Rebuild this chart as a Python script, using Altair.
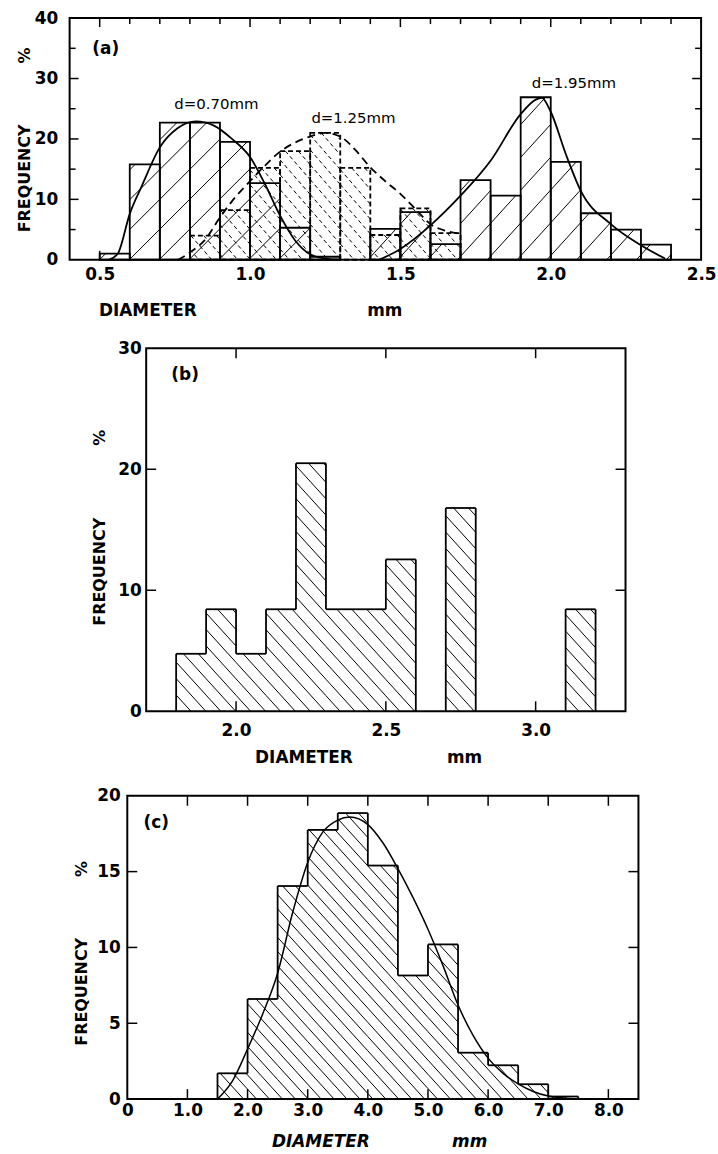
import math
import pandas as pd
import altair as alt

FONT = "DejaVu Sans"
NB = "\u00a0"

# ---------------- Panel (a) data ----------------
A_EDGES_070 = [0.5, 0.6, 0.7, 0.8, 0.9, 1.0, 1.1, 1.2, 1.3]
A_FREQ_070 = [1.0, 15.8, 22.7, 22.7, 19.5, 12.7, 5.3, 0.5]
A_EDGES_125 = [0.8, 0.9, 1.0, 1.1, 1.2, 1.3, 1.4, 1.5, 1.6, 1.7]
A_FREQ_125 = [4.0, 8.2, 15.2, 18.0, 21.0, 15.2, 4.1, 8.5, 4.4]
A_EDGES_195 = [1.4, 1.5, 1.6, 1.7, 1.8, 1.9, 2.0, 2.1, 2.2, 2.3, 2.4]
A_FREQ_195 = [5.1, 7.9, 2.6, 13.2, 10.6, 26.9, 16.2, 7.7, 5.0, 2.5]

A_CURVE_070_X = [0.53, 0.56, 0.60, 0.64, 0.70, 0.76, 0.82, 0.88, 0.94, 1.00, 1.05, 1.10, 1.15, 1.20, 1.25, 1.30]
A_CURVE_070_Y = [0.0, 1.0, 7.6, 12.2, 18.6, 21.8, 22.9, 22.2, 20.0, 17.0, 12.5, 7.3, 3.2, 0.9, 0.2, 0.0]
A_CURVE_125_X = [0.76, 0.80, 0.85, 0.90, 0.95, 1.00, 1.05, 1.10, 1.15, 1.20, 1.25, 1.30, 1.35, 1.40, 1.45, 1.50, 1.55, 1.60, 1.65, 1.70]
A_CURVE_125_Y = [0.0, 1.2, 3.3, 7.0, 10.3, 13.0, 15.6, 17.9, 19.4, 20.4, 21.0, 20.4, 18.2, 15.3, 13.0, 10.9, 8.4, 5.9, 4.8, 4.3]
A_CURVE_195_X = [1.43, 1.50, 1.60, 1.70, 1.80, 1.90, 1.95, 1.97, 2.00, 2.05, 2.10, 2.20, 2.30, 2.38]
A_CURVE_195_Y = [0.0, 1.8, 5.7, 10.6, 16.4, 24.1, 26.5, 26.8, 24.5, 17.5, 11.4, 5.9, 2.4, 0.2]

A_XLABELS = [0.5, 1.0, 1.5, 2.0, 2.5]
A_YLABELS = [0, 10, 20, 30, 40]
A_XTICKS = [0.5, 0.6, 0.7, 0.8, 0.9, 1.0, 1.1, 1.2, 1.3, 1.4, 1.5, 1.6, 1.7, 1.8, 1.9, 2.0, 2.1, 2.2, 2.3, 2.4]
A_XTICKS_MAJOR = [0.5, 1.0, 1.5, 2.0]
A_YTICKS = [5, 10, 15, 20, 25, 30, 35]
A_YTICKS_MAJOR = [10, 20, 30]
A_PANEL_LABEL = ["(a)"]
A_PANEL_LABEL_X = [0.52]
A_PANEL_LABEL_Y = [34.9]
A_NOTE = ["d=0.70mm", "d=1.25mm", "d=1.95mm"]
A_NOTE_X = [0.888, 1.344, 2.077]
A_NOTE_Y = [25.7, 23.5, 29.3]

# ---------------- Panel (b) data ----------------
B_EDGES = [1.8, 1.9, 2.0, 2.1, 2.2, 2.3, 2.4, 2.5, 2.6, 2.7, 2.8, 2.9, 3.0, 3.1, 3.2]
B_FREQ = [4.75, 8.43, 4.75, 8.43, 20.5, 8.43, 8.43, 12.55, 0.0, 16.8, 0.0, 0.0, 0.0, 8.43]
B_XLABELS = [2.0, 2.5, 3.0]
B_YLABELS = [0, 10, 20, 30]
B_XTICKS = [2.0, 2.5, 3.0]
B_YTICKS = [10, 20]
B_PANEL_LABEL = ["(b)"]
B_PANEL_LABEL_X = [1.83]
B_PANEL_LABEL_Y = [27.8]

# ---------------- Panel (c) data ----------------
C_EDGES = [1.5, 2.0, 2.5, 3.0, 3.5, 4.0, 4.5, 5.0, 5.5, 6.0, 6.5, 7.0, 7.5]
C_FREQ = [1.7, 6.6, 14.05, 17.75, 18.86, 15.4, 8.15, 10.2, 3.06, 2.23, 0.98, 0.17]
C_CURVE_X = [1.5, 1.75, 2.0, 2.25, 2.5, 2.75, 3.0, 3.25, 3.5, 3.7, 4.0, 4.25, 4.5, 4.75, 5.0, 5.25, 5.5, 5.75, 6.0, 6.25, 6.5, 6.75, 7.0, 7.5]
C_CURVE_Y = [0.0, 1.2, 3.3, 5.6, 8.3, 12.3, 15.6, 17.6, 18.4, 18.6, 18.1, 16.9, 15.2, 13.3, 11.2, 8.8, 6.2, 4.2, 2.7, 1.7, 1.0, 0.5, 0.2, 0.0]
C_XLABELS = [0, 1, 2, 3, 4, 5, 6, 7, 8]
C_YLABELS = [0, 5, 10, 15, 20]
C_XTICKS = [1, 2, 3, 4, 5, 6, 7, 8]
C_YTICKS = [5, 10, 15]
C_PANEL_LABEL = ["(c)"]
C_PANEL_LABEL_X = [0.48]
C_PANEL_LABEL_Y = [18.2]


# ---------------- helpers ----------------
def hatch_segments(edges, freqs, xmin, ymin, sx, sy, step, slope, direction):
    segs = []
    X = [(e - xmin) * sx for e in edges]
    hmax = max(freqs) * sy
    if direction == "/":
        c0, c1 = X[0] - hmax / slope - step, X[-1] + step
    else:
        c0, c1 = X[0] - step, X[-1] + hmax / slope + step
    for k in range(int(math.floor(c0 / step)), int(math.ceil(c1 / step)) + 1):
        c = k * step
        for i, v in enumerate(freqs):
            h = (v - ymin) * sy
            if h <= 0:
                continue
            a, b = X[i], X[i + 1]
            if direction == "/":
                lo, hi = c, c + h / slope
                xa, xb = max(a, lo), min(b, hi)
                if xb - xa < 0.3:
                    continue
                ya, yb = slope * (xa - c), slope * (xb - c)
            else:
                lo, hi = c - h / slope, c
                xa, xb = max(a, lo), min(b, hi)
                if xb - xa < 0.3:
                    continue
                ya, yb = slope * (c - xa), slope * (c - xb)
            segs.append({"x": xmin + xa / sx, "y": ymin + ya / sy,
                         "x2": xmin + xb / sx, "y2": ymin + yb / sy})
    return pd.DataFrame(segs)


def outline_segments(edges, freqs):
    segs = []
    for i, v in enumerate(freqs):
        if v > 0:
            segs.append({"x": edges[i], "y": v, "x2": edges[i + 1], "y2": v})
    vals = [0.0] + list(freqs) + [0.0]
    for j, e in enumerate(edges):
        l, r = vals[j], vals[j + 1]
        if l != r:
            segs.append({"x": e, "y": l, "x2": e, "y2": r})
    return pd.DataFrame(segs)


def tick_segments(xticks, xmajor, yticks, ymajor, xdom, ydom, sx, sy, minor_len, major_len):
    segs = []
    for t in xticks:
        L = (major_len if t in xmajor else minor_len) / sy
        segs.append({"x": t, "x2": t, "y": ydom[0], "y2": ydom[0] + L})
        segs.append({"x": t, "x2": t, "y": ydom[1], "y2": ydom[1] - L})
    for t in yticks:
        L = (major_len if t in ymajor else minor_len) / sx
        segs.append({"x": xdom[0], "x2": xdom[0] + L, "y": t, "y2": t})
        segs.append({"x": xdom[1], "x2": xdom[1] - L, "y": t, "y2": t})
    return pd.DataFrame(segs)


class Panel:
    def __init__(self, xs, ys, xaxis, yaxis):
        self.xs, self.ys, self.xaxis, self.yaxis = xs, ys, xaxis, yaxis

    def X(self, f="x"):
        return alt.X(f + ":Q", scale=self.xs, axis=self.xaxis)

    def Y(self, f="y"):
        return alt.Y(f + ":Q", scale=self.ys, axis=self.yaxis)

    def segs(self, df, width, dash=None):
        kw = {"color": "black", "strokeWidth": width}
        if dash is not None:
            kw["strokeDash"] = dash
        return alt.Chart(df).mark_rule(**kw).encode(x=self.X(), x2="x2:Q", y=self.Y(), y2="y2:Q")

    def rects(self, edges, freqs, dash=None):
        df = pd.DataFrame({"x": edges[:-1], "x2": edges[1:], "y": [0.0] * len(freqs), "y2": freqs})
        kw = {"filled": False, "stroke": "black", "strokeWidth": 1.8}
        if dash is not None:
            kw["strokeDash"] = dash
        return alt.Chart(df).mark_rect(**kw).encode(x=self.X(), x2="x2:Q", y=self.Y(), y2="y2:Q")

    def curve(self, xv, yv, dash=None, width=1.8):
        df = pd.DataFrame({"x": xv, "y": yv})
        kw = {"color": "black", "strokeWidth": width, "interpolate": "monotone"}
        if dash is not None:
            kw["strokeDash"] = dash
        return alt.Chart(df).mark_line(**kw).encode(x=self.X(), y=self.Y())

    def text(self, texts, xv, yv, size, weight):
        df = pd.DataFrame({"x": xv, "y": yv, "t": texts})
        return alt.Chart(df).mark_text(font=FONT, fontSize=size, fontWeight=weight, align="center",
                                       baseline="middle", color="black").encode(
            x=self.X(), y=self.Y(), text="t:N")


def make_axes(xvals, yvals, xlabel_expr, xtitle, ytitle, xtx, xty, ytx, yty, xlp, ylp, italic=False):
    xkw = dict(values=xvals, title=xtitle, labelExpr=xlabel_expr, labelPadding=xlp,
               titleX=xtx, titleY=xty, titleAlign="left", titleBaseline="middle",
               titleAnchor="start", labelFontSize=17, titleFontSize=17)
    if italic:
        xkw["titleFontStyle"] = "italic"
    xaxis = alt.Axis(**xkw)
    yaxis = alt.Axis(values=yvals, title=ytitle, labelPadding=ylp, format="d",
                     titleX=ytx, titleY=yty, titleAngle=270, titleAlign="center",
                     titleBaseline="middle", labelFontSize=17, titleFontSize=16)
    return xaxis, yaxis


# ---------------- Panel (a) ----------------
AW, AH = 635, 243
A_XDOM, A_YDOM = [0.4, 2.5], [0, 40]
asx, asy = AW / (A_XDOM[1] - A_XDOM[0]), AH / (A_YDOM[1] - A_YDOM[0])
pa = Panel(alt.Scale(domain=A_XDOM, nice=False, zero=False),
           alt.Scale(domain=A_YDOM, nice=False, zero=False),
           *make_axes(A_XLABELS, A_YLABELS, "format(datum.value, '.1f')",
                      "DIAMETER" + NB * 29 + "mm", "FREQUENCY" + NB * 11 + "%",
                      29, 51, -45, 122, 7, 12))

panel_a = alt.layer(
    pa.segs(tick_segments(A_XTICKS, A_XTICKS_MAJOR, A_YTICKS, A_YTICKS_MAJOR,
                          A_XDOM, A_YDOM, asx, asy, 6, 9), 1.5),
    pa.segs(hatch_segments(A_EDGES_070, A_FREQ_070, A_XDOM[0], 0, asx, asy, 30, 1.0, "/"), 1.0),
    pa.segs(hatch_segments(A_EDGES_195, A_FREQ_195, A_XDOM[0], 0, asx, asy, 30, 1.1, "/"), 1.0),
    pa.segs(hatch_segments(A_EDGES_125, A_FREQ_125, A_XDOM[0], 0, asx, asy, 13, 1.15, "\\"), 1.0,
            dash=[4, 3]),
    pa.rects(A_EDGES_070, A_FREQ_070),
    pa.rects(A_EDGES_195, A_FREQ_195),
    pa.rects(A_EDGES_125, A_FREQ_125, dash=[5, 3]),
    pa.curve(A_CURVE_070_X, A_CURVE_070_Y),
    pa.curve(A_CURVE_195_X, A_CURVE_195_Y),
    pa.curve(A_CURVE_125_X, A_CURVE_125_Y, dash=[8, 5]),
    pa.text(A_PANEL_LABEL, A_PANEL_LABEL_X, A_PANEL_LABEL_Y, 17, "bold"),
    pa.text(A_NOTE, A_NOTE_X, A_NOTE_Y, 15, "normal"),
).properties(width=AW, height=AH)

# ---------------- Panel (b) ----------------
BW, BH = 482, 365
B_XDOM, B_YDOM = [1.7, 3.3], [0, 30]
bsx, bsy = BW / (B_XDOM[1] - B_XDOM[0]), BH / (B_YDOM[1] - B_YDOM[0])
pb = Panel(alt.Scale(domain=B_XDOM, nice=False, zero=False),
           alt.Scale(domain=B_YDOM, nice=False, zero=False),
           *make_axes(B_XLABELS, B_YLABELS, "format(datum.value, '.1f')",
                      "DIAMETER" + NB * 16 + "mm", "FREQUENCY" + NB * 13 + "%",
                      109, 47, -47, 180, 11, 5))

panel_b = alt.layer(
    pb.segs(tick_segments(B_XTICKS, B_XTICKS, B_YTICKS, B_YTICKS,
                          B_XDOM, B_YDOM, bsx, bsy, 10, 10), 1.5),
    pb.segs(hatch_segments(B_EDGES, B_FREQ, B_XDOM[0], 0, bsx, bsy, 15, 1.1, "\\"), 1.0),
    pb.segs(outline_segments(B_EDGES, B_FREQ), 1.8),
    pb.text(B_PANEL_LABEL, B_PANEL_LABEL_X, B_PANEL_LABEL_Y, 17, "bold"),
).properties(width=BW, height=BH)

# ---------------- Panel (c) ----------------
CW, CH = 514, 305
C_XDOM, C_YDOM = [0, 8.5], [0, 20]
csx, csy = CW / (C_XDOM[1] - C_XDOM[0]), CH / (C_YDOM[1] - C_YDOM[0])
pc = Panel(alt.Scale(domain=C_XDOM, nice=False, zero=False),
           alt.Scale(domain=C_YDOM, nice=False, zero=False),
           *make_axes(C_XLABELS, C_YLABELS, "datum.value == 0 ? '0' : format(datum.value, '.1f')",
                      "DIAMETER" + NB * 14 + "mm", "FREQUENCY" + NB * 11 + "%",
                      145, 43, -46, 158, 3, 7, italic=True))

panel_c = alt.layer(
    pc.segs(tick_segments(C_XTICKS, C_XTICKS, C_YTICKS, C_YTICKS,
                          C_XDOM, C_YDOM, csx, csy, 10, 10), 1.5),
    pc.segs(hatch_segments(C_EDGES, C_FREQ, C_XDOM[0], 0, csx, csy, 13, 1.1, "\\"), 1.0),
    pc.segs(outline_segments(C_EDGES, C_FREQ), 1.8),
    pc.curve(C_CURVE_X, C_CURVE_Y, width=1.5),
    pc.text(C_PANEL_LABEL, C_PANEL_LABEL_X, C_PANEL_LABEL_Y, 17, "bold"),
).properties(width=CW, height=CH)


def spacer(w):
    return alt.Chart(pd.DataFrame({"v": [0]})).mark_rect(opacity=0).encode(
        x=alt.value(0), x2=alt.value(w), y=alt.value(0), y2=alt.value(1)
    ).properties(width=w, height=1, view=alt.ViewBackground(strokeOpacity=0, fillOpacity=0))


chart = alt.vconcat(
    panel_a,
    alt.hconcat(spacer(21), panel_b, spacing=0),
    alt.hconcat(spacer(3), panel_c, spacing=0),
    spacing=19,
).properties(
    padding={"left": 15, "top": 5, "right": 0, "bottom": 0},
    background="white",
).configure_view(
    stroke="black", strokeWidth=2
).configure_axis(
    labelFont=FONT, titleFont=FONT, labelColor="black", titleColor="black",
    labelFontWeight="bold", titleFontWeight="bold", grid=False, domain=False, ticks=False,
    labelFlush=False, labelOverlap=False,
)

chart.save("out.html", embed_options={"renderer": "svg", "actions": False})
